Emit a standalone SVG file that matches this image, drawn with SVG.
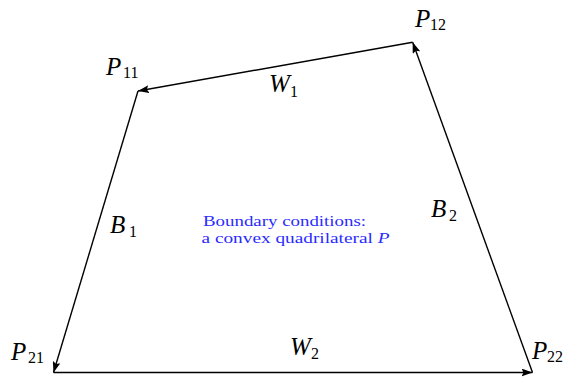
<svg xmlns="http://www.w3.org/2000/svg" width="577" height="379" viewBox="0 0 577 379">
<style>
.bg{fill:#ffffff}
.edge{stroke:#000;stroke-width:1.4;fill:none;marker-end:url(#arr)}
.v{font-family:"Liberation Serif","DejaVu Serif",serif;font-style:italic;font-size:25px;fill:#000}
.s{font-family:"Liberation Serif","DejaVu Serif",serif;font-size:16px;fill:#000}
.note{font-family:"Liberation Serif","DejaVu Serif",serif;font-size:15px;fill:#2b2bff}
.note .i{font-style:italic}
</style>
<defs>
<marker id="arr" markerUnits="userSpaceOnUse" markerWidth="12" markerHeight="8" refX="11" refY="4" orient="auto">
<path d="M0,0 L11,4 L0,8 L2,4 z" fill="#000"/>
</marker>
</defs>
<rect class="bg" x="0" y="0" width="577" height="379"/>
<g id="connectors">
<path class="edge" d="M412.7,42.3 L138,91"/>
<path class="edge" d="M138,91 L53.5,372.5"/>
<path class="edge" d="M53.5,372.5 L532.5,372.5"/>
<path class="edge" d="M532.5,372.5 L412.7,42.3"/>
</g>
<g id="P11"><text class="v" x="106" y="75">P</text><text class="s" x="123" y="78">11</text></g>
<g id="P12"><text class="v" x="415" y="27">P</text><text class="s" x="430" y="30">12</text></g>
<g id="P21"><text class="v" x="11" y="360">P</text><text class="s" x="28" y="363">21</text></g>
<g id="P22"><text class="v" x="532" y="359">P</text><text class="s" x="547" y="362">22</text></g>
<g id="W1"><text class="v" x="269" y="92">W</text><text class="s" x="290" y="97">1</text></g>
<g id="B1"><text class="v" x="110" y="233">B</text><text class="s" x="129" y="237">1</text></g>
<g id="B2"><text class="v" x="431" y="217">B</text><text class="s" x="449" y="221">2</text></g>
<g id="W2"><text class="v" x="290" y="355">W</text><text class="s" x="311" y="359">2</text></g>
<g id="note">
<text class="note" x="203" y="226" textLength="163" lengthAdjust="spacingAndGlyphs">Boundary conditions:</text>
<text class="note" x="201.5" y="243" textLength="188" lengthAdjust="spacingAndGlyphs">a convex quadrilateral <tspan class="i">P</tspan></text>
</g>
</svg>
